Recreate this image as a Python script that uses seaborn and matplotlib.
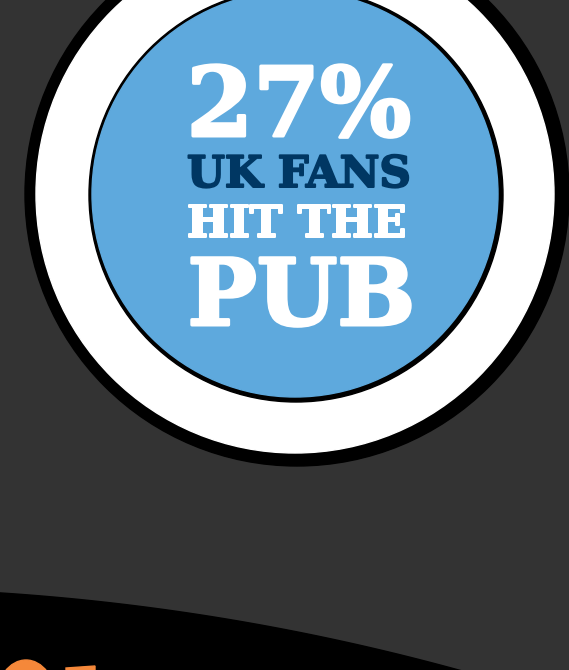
import matplotlib
matplotlib.use("Agg")
import matplotlib.pyplot as plt
from matplotlib.patches import Circle, Ellipse, Polygon
import matplotlib.patheffects as pe
import seaborn as sns
import numpy as np

sns.set_theme(style="white")
plt.rcParams['font.family'] = ['DejaVu Serif']

# data
pct_value = 27
text_lines = [f"{pct_value}%", "UK FANS", "HIT THE", "PUB"]
line_colors = ["white", "#003763", "white", "white"]
line_left = [185, 186, 186, 186]
line_width = [228, 226, 222, 231]
line_base = [136, 187, 237, 325]
line_stroke = [3.0, 2.0, 2.0, 3.0]

bg = "#333333"
blue = "#5EA9DD"
orange = "#F5883A"

W, H = 569, 670
fig = plt.figure(figsize=(W / 100, H / 100), dpi=100, facecolor=bg)
ax = fig.add_axes([0, 0, 1, 1])
ax.set_xlim(0, W)
ax.set_ylim(H, 0)
ax.set_facecolor(bg)
ax.axis("off")

# rings
ax.add_patch(Circle((297, 194), 272, color="black", zorder=1))
ax.add_patch(Circle((295, 194), 259, color="white", zorder=2))
ax.add_patch(Circle((296, 195), 207, color="black", zorder=3))
ax.add_patch(Circle((295, 194), 203, color=blue, zorder=4))

# big black arc at the bottom
R = 2300
cx, cy = -150, 2888
xs = np.linspace(-10, 580, 200)
ys = cy - np.sqrt(R ** 2 - (xs - cx) ** 2)
poly = np.vstack([np.column_stack([xs, ys]), [[580, 700], [-10, 700]]])
ax.add_patch(Polygon(poly, closed=True, color="black", zorder=1))

# orange piece peeking in
ax.add_patch(Ellipse((26, 700), 60, 80, color=orange, zorder=2))
ax.add_patch(Polygon([[66, 668], [95, 666], [95, 675], [66, 675]], closed=True,
                     color=orange, zorder=2))

fig.canvas.draw()
renderer = fig.canvas.get_renderer()
for txt, col, x0, w, yb, sw in zip(text_lines, line_colors, line_left,
                                   line_width, line_base, line_stroke):
    t = ax.text(x0 + sw / 2, yb, txt, color=col, fontsize=50, fontweight="bold",
                ha="left", va="baseline", zorder=6,
                path_effects=[pe.withStroke(linewidth=sw * 0.72, foreground=col)])
    bb = t.get_window_extent(renderer)
    t.set_fontsize(50 * (w - sw) / bb.width)

fig.savefig("out.png", dpi=100, facecolor=bg)
